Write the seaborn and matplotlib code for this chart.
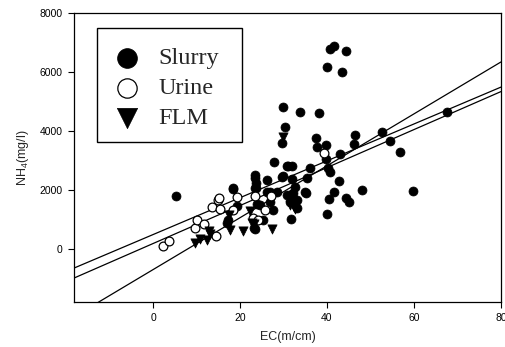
import numpy as np
import pandas as pd
import matplotlib
matplotlib.use("Agg")
import matplotlib.pyplot as plt
import matplotlib.patches as mpatches
import seaborn as sns

# data
slurry_x = [5.3, 40.7, 41.7, 44.4, 40.1, 43.4, 30.0, 33.9, 38.2, 30.3, 29.6,
            37.5, 39.7, 37.7, 46.4, 46.3, 52.6, 54.6, 56.8, 67.6, 43.0,
            39.8, 36.1, 27.9, 30.7, 31.9, 40.3, 40.7, 23.4, 23.4, 26.1, 29.6, 31.9, 35.3, 42.8,
            32.6, 23.7, 26.1, 28.4, 30.7, 31.9, 35.1, 41.5, 48.0, 59.8, 40.5, 44.4, 45.0, 39.9,
            23.8, 26.9, 31.5, 33.0, 27.7, 31.7, 25.4, 23.4,
            18.3, 23.4, 19.2, 17.3, 16.9, 23.2, 31.1, 30.0, 18.5, 23.7, 26.9, 32.1,
            34.9, 32.6, 33.0, 24.6]
slurry_y = [1800, 6770, 6890, 6720, 6150, 6000, 4800, 4650, 4600, 4130, 3600,
            3750, 3530, 3450, 3850, 3560, 3960, 3660, 3270, 4630, 3220,
            3040, 2740, 2940, 2820, 2820, 2740, 2590, 2510, 2400, 2330, 2450, 2360, 2400, 2300,
            2110, 2060, 1940, 1940, 1830, 1850, 1890, 1940, 1980, 1970, 1700, 1720, 1580, 1190,
            1530, 1600, 1600, 1640, 1300, 1020, 960, 670,
            2060, 2060, 1460, 980, 870, 700, 2810, 2475, 2020, 2230, 1940, 1890,
            1910, 1600, 1380, 1490]

urine_x = [2.4, 3.7, 9.7, 10.0, 11.7, 13.5, 15.0, 15.2, 15.4, 19.2, 18.5, 14.5,
           22.9, 23.4, 27.1, 25.7, 24.2, 39.4]
urine_y = [100, 280, 700, 980, 850, 1410, 1660, 1720, 1350, 1740, 1320, 440,
           1040, 1800, 1800, 1300, 980, 3260]

flm_x = [9.7, 10.8, 12.5, 13.1, 12.9, 17.7, 20.6, 17.5, 22.3, 22.7, 23.2, 27.4,
         32.3, 32.6, 30.0, 31.5]
flm_y = [210, 340, 300, 510, 590, 640, 620, 1150, 1270, 890, 850, 680,
         1490, 1360, 3800, 1490]

# regression lines (slope, intercept)
line_slopes = [62.5, 64.4, 88.0]
line_intercepts = [482, 178, -706]

sns.set_style("white")
plt.rcParams['font.family'] = ['Liberation Sans', 'DejaVu Sans']
plt.rcParams['mathtext.default'] = 'regular'

fig = plt.figure(figsize=(5.06, 3.47), dpi=100)
ax = fig.add_axes([0.146, 0.130, 0.844, 0.833])

xmin, xmax = -18.2, 80
ymin, ymax = -1800, 8000

xs = np.array([xmin, xmax])
for m, b in zip(line_slopes, line_intercepts):
    ax.plot(xs, m * xs + b, color='black', lw=0.9, zorder=1)

sns.scatterplot(x=slurry_x, y=slurry_y, marker='o', color='black', edgecolor='black',
                s=42, linewidth=0.5, label='Slurry', ax=ax, zorder=2)
sns.scatterplot(x=urine_x, y=urine_y, marker='o', color='white', edgecolor='black',
                s=40, linewidth=0.9, label='Urine', ax=ax, zorder=3)
sns.scatterplot(x=flm_x, y=flm_y, marker='v', color='black', edgecolor='black',
                s=44, linewidth=0.5, label='FLM', ax=ax, zorder=3)

ax.set_xlim(xmin, xmax)
ax.set_ylim(ymin, ymax)
ax.set_xticks([0, 20, 40, 60, 80])
ax.set_yticks([0, 2000, 4000, 6000, 8000])
ax.tick_params(axis='both', direction='out', length=4, width=0.8, labelsize=7.5,
               pad=4, bottom=True, left=True, top=False, right=False, colors='black')
for sp in ax.spines.values():
    sp.set_color('black')
    sp.set_linewidth(0.9)

ax.set_xlabel('EC(m/cm)', fontsize=9, labelpad=6)
ax.set_ylabel('NH$_4$(mg/l)', fontsize=9, labelpad=6)

# legend box drawn separately so it can be a bit wider than the entries
box = mpatches.Rectangle((0.054, 0.554), 0.339, 0.394, transform=ax.transAxes,
                         facecolor='white', edgecolor='black', lw=1.0, zorder=4)
ax.add_patch(box)
leg = ax.legend(loc='upper left', bbox_to_anchor=(0.054, 0.948), borderaxespad=0,
                prop={'family': 'Liberation Serif', 'size': 17.5}, markerscale=2.2,
                frameon=False, handletextpad=0.85, borderpad=0.8,
                labelspacing=0.32, handlelength=0.87)
leg.set_zorder(5)

plt.savefig('out.png', dpi=100)
